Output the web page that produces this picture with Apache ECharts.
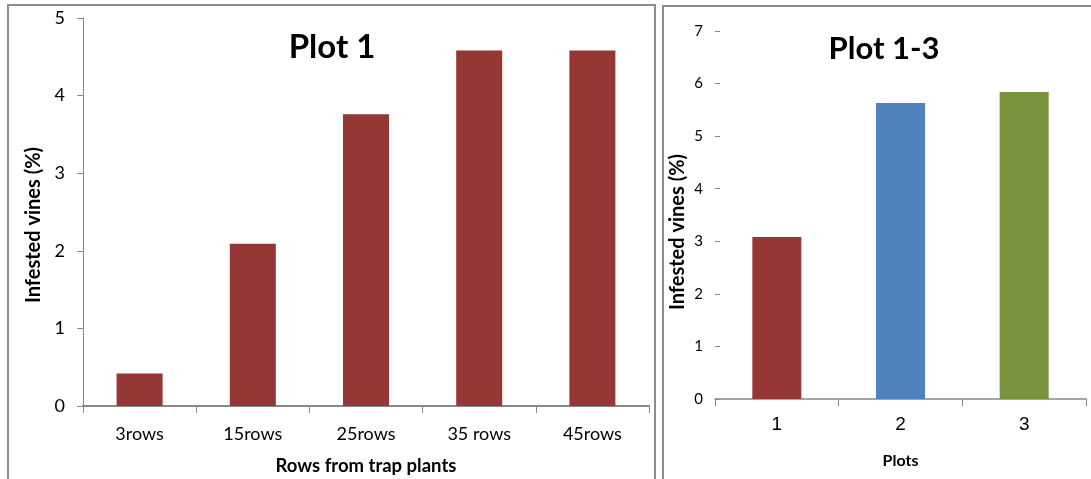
<!DOCTYPE html>
<html><head><meta charset="utf-8">
<script src="https://cdn.jsdelivr.net/npm/echarts@6/dist/echarts.min.js"></script>
<style>html,body{margin:0;padding:0;background:#fff}#c{width:1091px;height:479px}</style>
</head><body><div id="c"></div>
<script>
const rowCategories = ['3rows', '15rows', '25rows', '35 rows', '45rows'];
const rowValues = [0.42, 2.09, 3.76, 4.58, 4.58];
const plotCategories = ['1', '2', '3'];
const plotValues = [3.08, 5.63, 5.84];
const plotColors = ['#953735', '#4F81BD', '#77933C'];
const leftTicks = [0, 1, 2, 3, 4, 5];
const rightTicks = [0, 1, 2, 3, 4, 5, 6, 7];

const chart = echarts.init(document.getElementById('c'), null, {renderer: 'canvas'});
const font = 'Lato, "Open Sans", sans-serif';
chart.setOption({
  animation: false,
  graphic: [
    {type: 'rect', shape: {x: 8, y: 5, width: 647, height: 490}, style: {fill: 'none', stroke: '#8c8c8c', lineWidth: 2}},
    {type: 'rect', shape: {x: 663, y: 6, width: 440, height: 490}, style: {fill: 'none', stroke: '#8c8c8c', lineWidth: 2}}
  ],
  title: [
    {text: 'Plot 1', left: 327, top: 26, textAlign: 'center', textStyle: {fontFamily: font, fontWeight: 'bold', fontSize: 33, color: '#000'}},
    {text: 'Plot 1-3', left: 879, top: 28, textAlign: 'center', textStyle: {fontFamily: font, fontWeight: 'bold', fontSize: 31, color: '#000'}}
  ],
  grid: [
    {left: 83, right: 442, top: 18, bottom: 73, outerBoundsMode: 'none', containLabel: false},
    {left: 715, right: 5, top: 31, bottom: 80, outerBoundsMode: 'none', containLabel: false}
  ],
  xAxis: [
    {type: 'category', gridIndex: 0, data: rowCategories,
     name: 'Rows from trap plants', nameLocation: 'middle', nameGap: 51,
     nameTextStyle: {fontFamily: font, fontWeight: 'bold', fontSize: 18.5, color: '#000'},
     axisLine: {lineStyle: {color: '#888', width: 2}},
     axisTick: {show: true, length: 7, lineStyle: {color: '#888'}},
     axisLabel: {fontFamily: font, fontSize: 18, color: '#000', margin: 19}},
    {type: 'category', gridIndex: 1, data: plotCategories,
     name: 'Plots', nameLocation: 'middle', nameGap: 54,
     nameTextStyle: {fontFamily: font, fontWeight: 'bold', fontSize: 16, color: '#000'},
     axisLine: {lineStyle: {color: '#888', width: 1.5}},
     axisTick: {show: true, length: 7, lineStyle: {color: '#888'}},
     axisLabel: {fontFamily: '"Liberation Sans", sans-serif', fontSize: 19, color: '#000', margin: 16}}
  ],
  yAxis: [
    {type: 'value', gridIndex: 0, min: leftTicks[0], max: leftTicks[leftTicks.length - 1], interval: 1,
     name: 'Infested vines (%)', nameLocation: 'middle', nameGap: 38,
     nameTextStyle: {fontFamily: font, fontWeight: 'bold', fontSize: 20, color: '#000', padding: [0, 26, 0, 0]},
     axisLine: {show: true, lineStyle: {color: '#888'}},
     axisTick: {show: true, length: 6, lineStyle: {color: '#888'}},
     splitLine: {show: false},
     axisLabel: {fontFamily: font, fontSize: 18, color: '#000', margin: 18}},
    {type: 'value', gridIndex: 1, min: rightTicks[0], max: rightTicks[rightTicks.length - 1], interval: 1,
     name: 'Infested vines (%)', nameLocation: 'middle', nameGap: 27,
     nameTextStyle: {fontFamily: font, fontWeight: 'bold', fontSize: 20, color: '#000', padding: [0, 34, 0, 0]},
     axisLine: {show: false},
     axisTick: {show: true, inside: true, length: 5, lineStyle: {color: '#888'}},
     splitLine: {show: false},
     axisLabel: {fontFamily: font, fontSize: 15, color: '#000', margin: 12}}
  ],
  series: [
    {type: 'bar', xAxisIndex: 0, yAxisIndex: 0, data: rowValues, barWidth: 46,
     itemStyle: {color: '#953735'}},
    {type: 'bar', xAxisIndex: 1, yAxisIndex: 1, barWidth: 49,
     data: plotValues.map((v, i) => ({value: v, itemStyle: {color: plotColors[i]}}))}
  ]
});
</script></body></html>
